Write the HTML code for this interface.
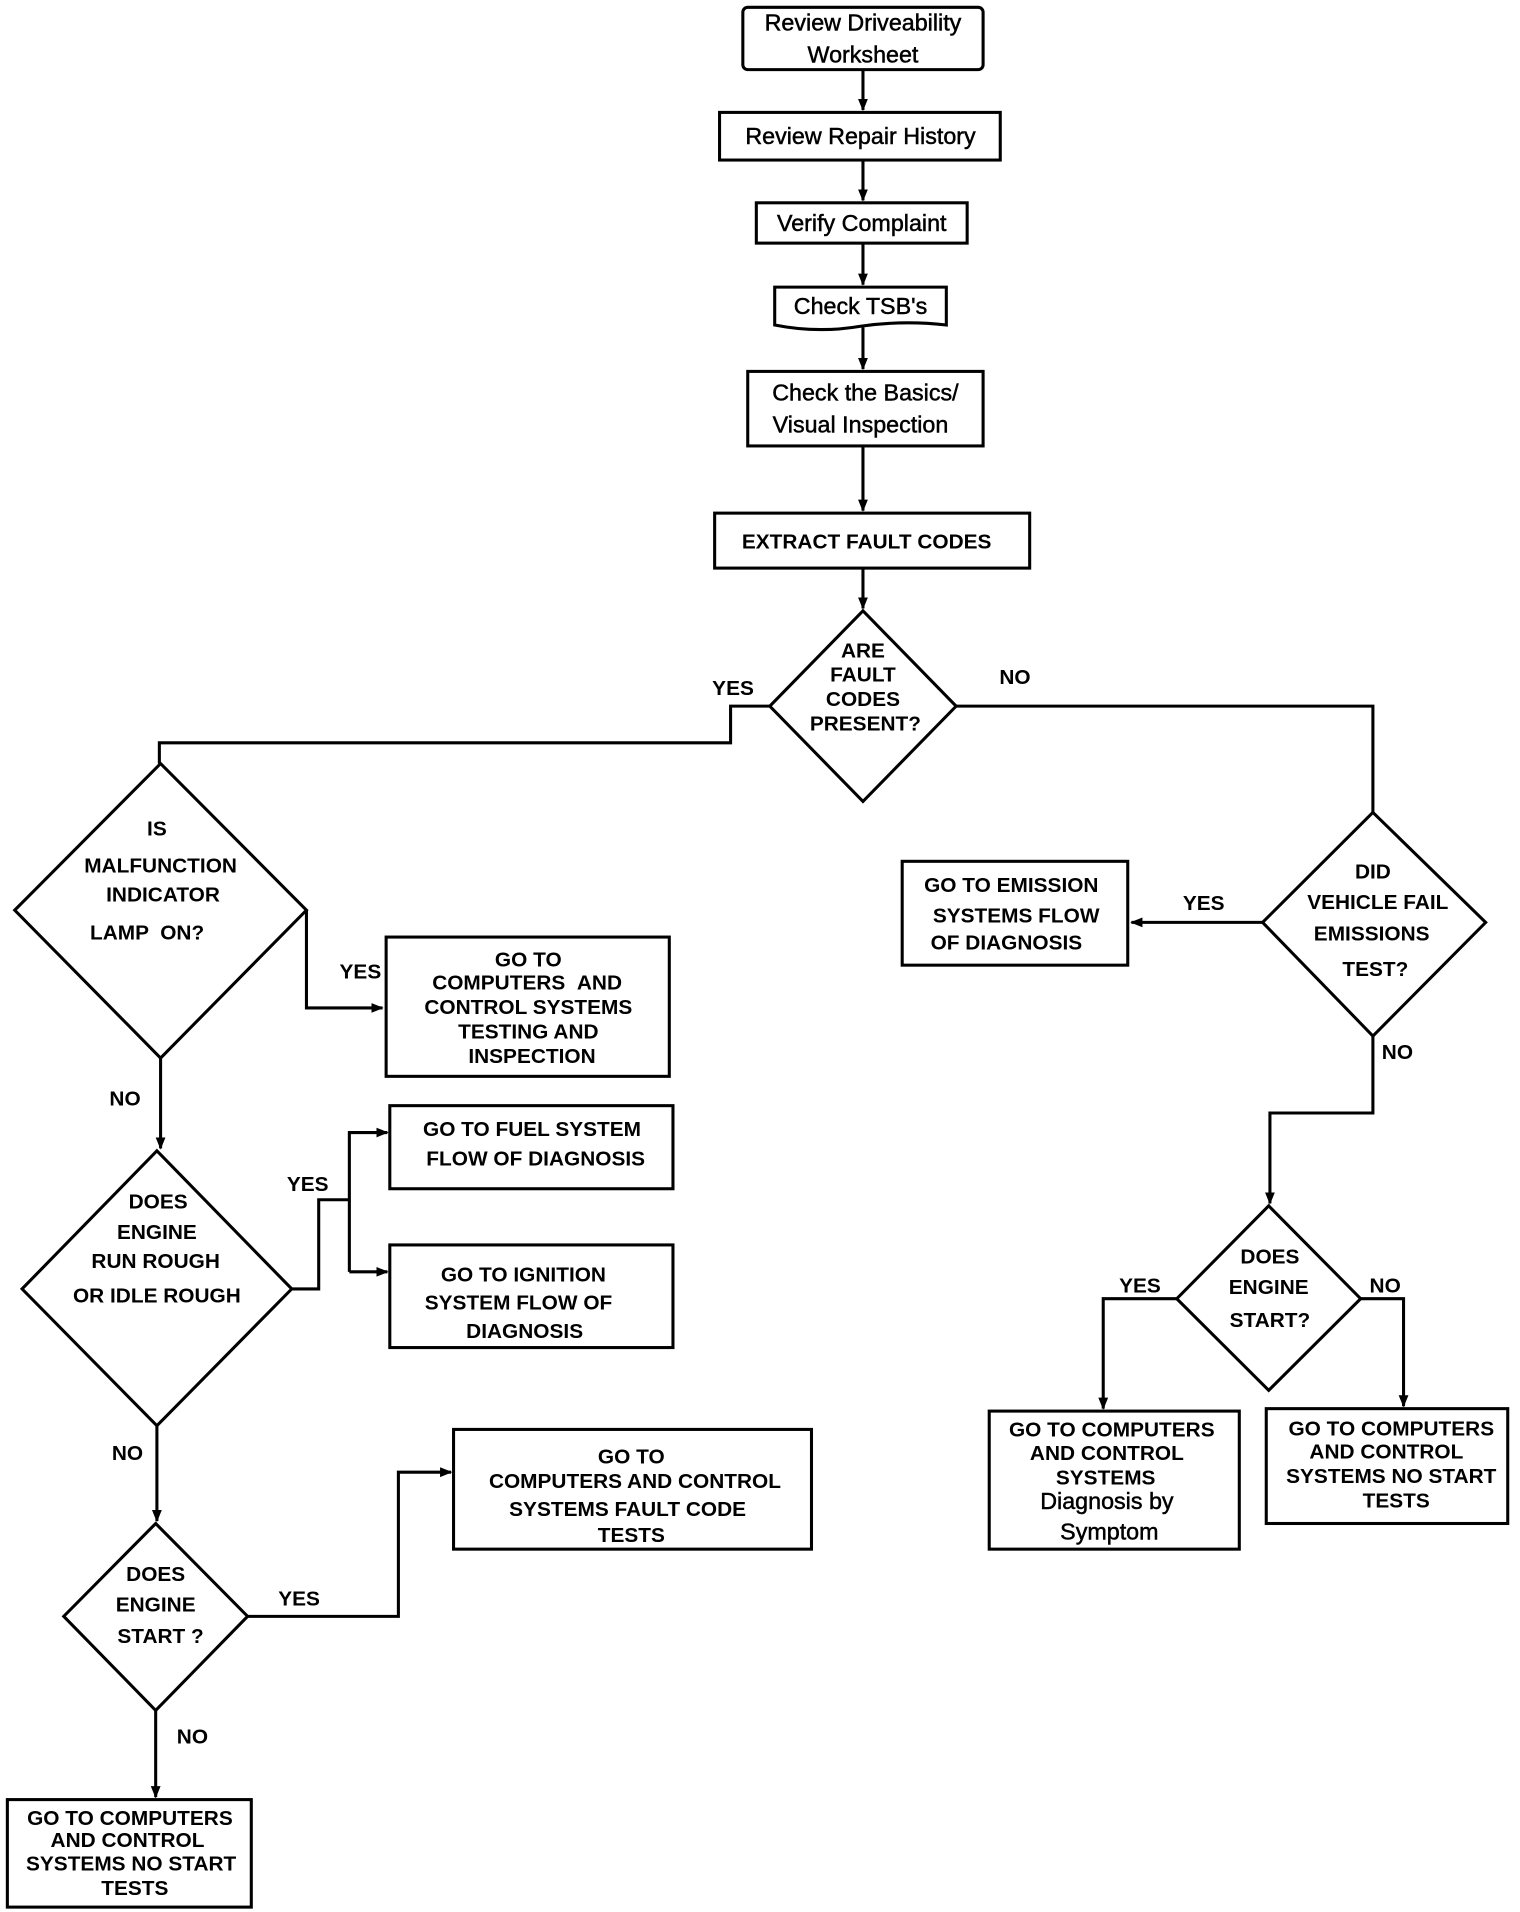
<!DOCTYPE html>
<html><head><meta charset="utf-8"><style>html,body{margin:0;padding:0;background:#fff}svg{display:block}</style></head>
<body>
<svg width="1520" height="1912" viewBox="0 0 1240 1565" preserveAspectRatio="none" xmlns="http://www.w3.org/2000/svg" font-family="Liberation Sans, sans-serif">
<defs><marker id="a" markerWidth="10" markerHeight="10" refX="9" refY="5" orient="auto" markerUnits="userSpaceOnUse"><path d="M0,1 L10,5 L0,9 Z" fill="#000"/></marker></defs>
<g fill="none" stroke="#000" stroke-width="2.5">
<rect x="606" y="6" width="196" height="51" rx="4"/>
<rect x="587" y="92" width="229" height="39"/>
<rect x="617" y="166" width="172" height="33"/>
<path d="M632,235 H772 V266 Q737,262 702,267 Q667,273 632,266 Z"/>
<rect x="610" y="304" width="192" height="61"/>
<rect x="583" y="420" width="257" height="45"/>
<path d="M704,57 V90" marker-end="url(#a)"/>
<path d="M704,131 V164" marker-end="url(#a)"/>
<path d="M704,199 V233" marker-end="url(#a)"/>
<path d="M704,268 V302" marker-end="url(#a)"/>
<path d="M704,365 V418" marker-end="url(#a)"/>
<path d="M704,465 V498" marker-end="url(#a)"/>
<path d="M704,500 L780,578 L704,656 L628,578 Z"/>
<path d="M628,578 H596 V608 H130 V625"/>
<path d="M780,578 H1120 V665"/>
<path d="M131,625 L250,745 L131,866 L12,745 Z"/>
<path d="M250,745 V825 H312" marker-end="url(#a)"/>
<rect x="315" y="767" width="231" height="114"/>
<path d="M131,866 V940" marker-end="url(#a)"/>
<path d="M128,942 L238,1055 L128,1167 L18,1055 Z"/>
<path d="M238,1055 H260 V982 H285"/>
<path d="M285,1041 V927 H316" marker-end="url(#a)"/>
<path d="M285,1041 H316" marker-end="url(#a)"/>
<rect x="318" y="905" width="231" height="68"/>
<rect x="318" y="1019" width="231" height="84"/>
<path d="M128,1167 V1245" marker-end="url(#a)"/>
<path d="M127,1247 L202,1323 L127,1400 L52,1323 Z"/>
<path d="M202,1323 H325 V1205 H368" marker-end="url(#a)"/>
<rect x="370" y="1170" width="292" height="98"/>
<path d="M127,1400 V1471" marker-end="url(#a)"/>
<rect x="6" y="1473" width="199" height="88"/>
<path d="M1120,665 L1212,755 L1120,848 L1030,755 Z"/>
<path d="M1030,755 H923" marker-end="url(#a)"/>
<rect x="736" y="705" width="184" height="85"/>
<path d="M1120,848 V911 H1036 V985" marker-end="url(#a)"/>
<path d="M1035,987 L1110,1063 L1035,1138 L960,1063 Z"/>
<path d="M960,1063 H900 V1153" marker-end="url(#a)"/>
<rect x="807" y="1155" width="204" height="113"/>
<path d="M1110,1063 H1145 V1151" marker-end="url(#a)"/>
<rect x="1033" y="1153" width="197" height="94"/>
</g>
<g font-size="19" text-anchor="middle" fill="#000" stroke="#000" stroke-width="0.4">
<text x="704" y="25">Review Driveability</text><text x="704" y="51">Worksheet</text>
<text x="702" y="118">Review Repair History</text>
<text x="703" y="189">Verify Complaint</text>
<text x="702" y="257">Check TSB's</text>
<text x="706" y="328">Check the Basics/</text><text x="702" y="354">Visual Inspection</text>
</g>
<g font-size="17" font-weight="bold" text-anchor="middle" fill="#000">
<text x="707" y="449">EXTRACT FAULT CODES</text>
<text x="704" y="538">ARE</text><text x="704" y="558">FAULT</text><text x="704" y="578">CODES</text><text x="706" y="598">PRESENT?</text>
<text x="598" y="569">YES</text><text x="828" y="560">NO</text>
<text x="128" y="684">IS</text><text x="131" y="714">MALFUNCTION</text><text x="133" y="738">INDICATOR</text><text x="120" y="769">LAMP &#160;ON?</text>
<text x="294" y="801">YES</text>
<text x="431" y="791">GO TO</text><text x="430" y="810">COMPUTERS &#160;AND</text><text x="431" y="830">CONTROL SYSTEMS</text><text x="431" y="850">TESTING AND</text><text x="434" y="870">INSPECTION</text>
<text x="102" y="905">NO</text>
<text x="129" y="989">DOES</text><text x="128" y="1014">ENGINE</text><text x="127" y="1038">RUN ROUGH</text><text x="128" y="1066">OR IDLE ROUGH</text>
<text x="251" y="975">YES</text>
<text x="434" y="930">GO TO FUEL SYSTEM</text><text x="437" y="954">FLOW OF DIAGNOSIS</text>
<text x="427" y="1049">GO TO IGNITION</text><text x="423" y="1072">SYSTEM FLOW OF</text><text x="428" y="1095">DIAGNOSIS</text>
<text x="104" y="1195">NO</text>
<text x="127" y="1294">DOES</text><text x="127" y="1319">ENGINE</text><text x="131" y="1345">START ?</text>
<text x="244" y="1314">YES</text>
<text x="515" y="1198">GO TO</text><text x="518" y="1218">COMPUTERS AND CONTROL</text><text x="512" y="1241">SYSTEMS FAULT CODE</text><text x="515" y="1262">TESTS</text>
<text x="157" y="1427">NO</text>
<text x="106" y="1494">GO TO COMPUTERS</text><text x="104" y="1512">AND CONTROL</text><text x="107" y="1531">SYSTEMS NO START</text><text x="110" y="1551">TESTS</text>
<text x="1120" y="719">DID</text><text x="1124" y="744">VEHICLE FAIL</text><text x="1119" y="770">EMISSIONS</text><text x="1122" y="799">TEST?</text>
<text x="982" y="745">YES</text>
<text x="825" y="730">GO TO EMISSION</text><text x="829" y="755">SYSTEMS FLOW</text><text x="821" y="777">OF DIAGNOSIS</text>
<text x="1140" y="867">NO</text>
<text x="1036" y="1034">DOES</text><text x="1035" y="1059">ENGINE</text><text x="1036" y="1086">START?</text>
<text x="930" y="1058">YES</text><text x="1130" y="1058">NO</text>
<text x="907" y="1176">GO TO COMPUTERS</text><text x="903" y="1195">AND CONTROL</text><text x="902" y="1215">SYSTEMS</text>
<text x="1135" y="1175">GO TO COMPUTERS</text><text x="1131" y="1194">AND CONTROL</text><text x="1135" y="1214">SYSTEMS NO START</text><text x="1139" y="1234">TESTS</text>
</g>
<g font-size="19" text-anchor="middle" fill="#000" stroke="#000" stroke-width="0.4">
<text x="903" y="1235">Diagnosis by</text><text x="905" y="1260">Symptom</text>
</g>
</svg>
</body></html>
